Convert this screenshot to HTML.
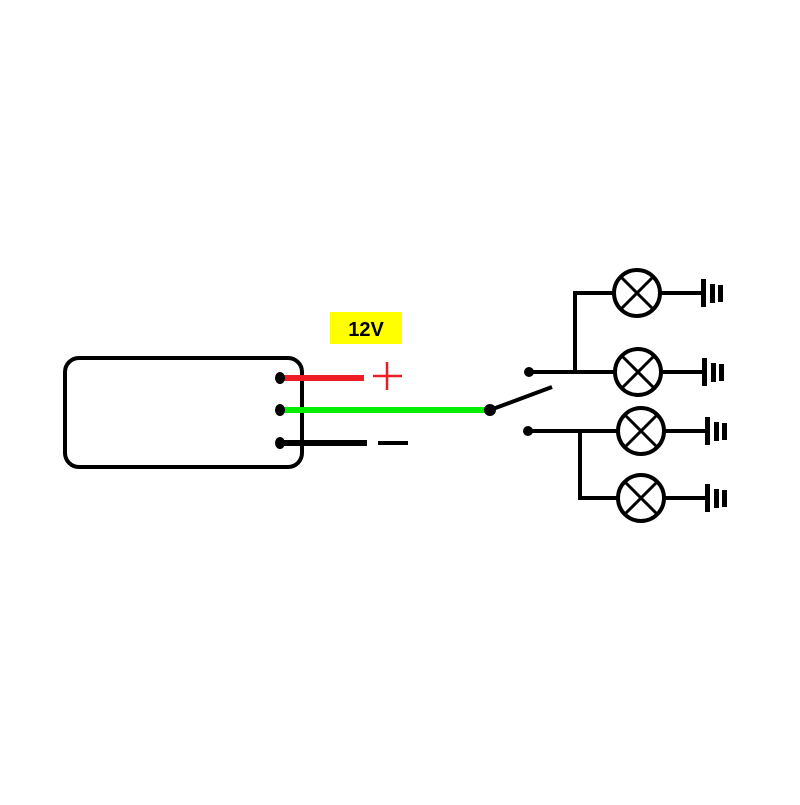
<!DOCTYPE html>
<html><head><style>html,body{margin:0;padding:0;background:#fff}</style></head><body>
<svg width="800" height="800" viewBox="0 0 800 800" xmlns="http://www.w3.org/2000/svg">
<rect width="800" height="800" fill="#fff"/>
<rect x="65" y="358" width="237" height="109" rx="14" fill="none" stroke="#000" stroke-width="4"/>
<rect x="330" y="312" width="72" height="32" fill="#ffff00"/>
<text x="366" y="336" font-family="Liberation Sans, sans-serif" font-size="20" font-weight="bold" text-anchor="middle" fill="#000">12V</text>
<line x1="280" y1="378" x2="364" y2="378" stroke="#ee1c24" stroke-width="6"/>
<line x1="373" y1="376" x2="402" y2="376" stroke="#ee1c24" stroke-width="2.5"/>
<line x1="387" y1="362" x2="387" y2="390" stroke="#ee1c24" stroke-width="2.5"/>
<line x1="280" y1="410" x2="490" y2="410" stroke="#00ee00" stroke-width="6"/>
<line x1="280" y1="443" x2="367" y2="443" stroke="#000" stroke-width="6"/>
<line x1="378" y1="443" x2="408" y2="443" stroke="#000" stroke-width="4"/>
<ellipse cx="280" cy="378" rx="5" ry="6" fill="#000"/>
<ellipse cx="280" cy="410" rx="5" ry="6" fill="#000"/>
<ellipse cx="280" cy="443" rx="5" ry="6" fill="#000"/>
<circle cx="490" cy="410" r="6" fill="#000"/>
<line x1="490" y1="410" x2="552" y2="387" stroke="#000" stroke-width="4"/>
<circle cx="529" cy="372" r="5" fill="#000"/>
<circle cx="528" cy="431" r="5" fill="#000"/>
<g stroke="#000" stroke-width="4" fill="none">
<line x1="529" y1="372" x2="615" y2="372"/>
<line x1="528" y1="431" x2="618" y2="431"/>
<polyline points="575,372 575,293 614,293"/>
<polyline points="580,431 580,498 618,498"/>
</g>
<g stroke="#000" fill="none">
<g transform="translate(637,293)"><circle r="23" stroke-width="4"/><line x1="-16" y1="-16" x2="16" y2="16" stroke-width="3"/><line x1="16" y1="-16" x2="-16" y2="16" stroke-width="3"/><line x1="23" y1="0" x2="66" y2="0" stroke-width="4"/></g>
<g transform="translate(638,372)"><circle r="23" stroke-width="4"/><line x1="-16" y1="-16" x2="16" y2="16" stroke-width="3"/><line x1="16" y1="-16" x2="-16" y2="16" stroke-width="3"/><line x1="23" y1="0" x2="66" y2="0" stroke-width="4"/></g>
<g transform="translate(641,431)"><circle r="23" stroke-width="4"/><line x1="-16" y1="-16" x2="16" y2="16" stroke-width="3"/><line x1="16" y1="-16" x2="-16" y2="16" stroke-width="3"/><line x1="23" y1="0" x2="66" y2="0" stroke-width="4"/></g>
<g transform="translate(641,498)"><circle r="23" stroke-width="4"/><line x1="-16" y1="-16" x2="16" y2="16" stroke-width="3"/><line x1="16" y1="-16" x2="-16" y2="16" stroke-width="3"/><line x1="23" y1="0" x2="66" y2="0" stroke-width="4"/></g>
</g>
<g fill="#000">
<g transform="translate(703,293)"><rect x="-2" y="-14" width="5" height="28"/><rect x="7" y="-9" width="5" height="19"/><rect x="15" y="-8" width="5" height="17"/></g>
<g transform="translate(704,372)"><rect x="-2" y="-14" width="5" height="28"/><rect x="7" y="-9" width="5" height="19"/><rect x="15" y="-8" width="5" height="17"/></g>
<g transform="translate(707,431)"><rect x="-2" y="-14" width="5" height="28"/><rect x="7" y="-9" width="5" height="19"/><rect x="15" y="-8" width="5" height="17"/></g>
<g transform="translate(707,498)"><rect x="-2" y="-14" width="5" height="28"/><rect x="7" y="-9" width="5" height="19"/><rect x="15" y="-8" width="5" height="17"/></g>
</g>
</svg>
</body></html>
